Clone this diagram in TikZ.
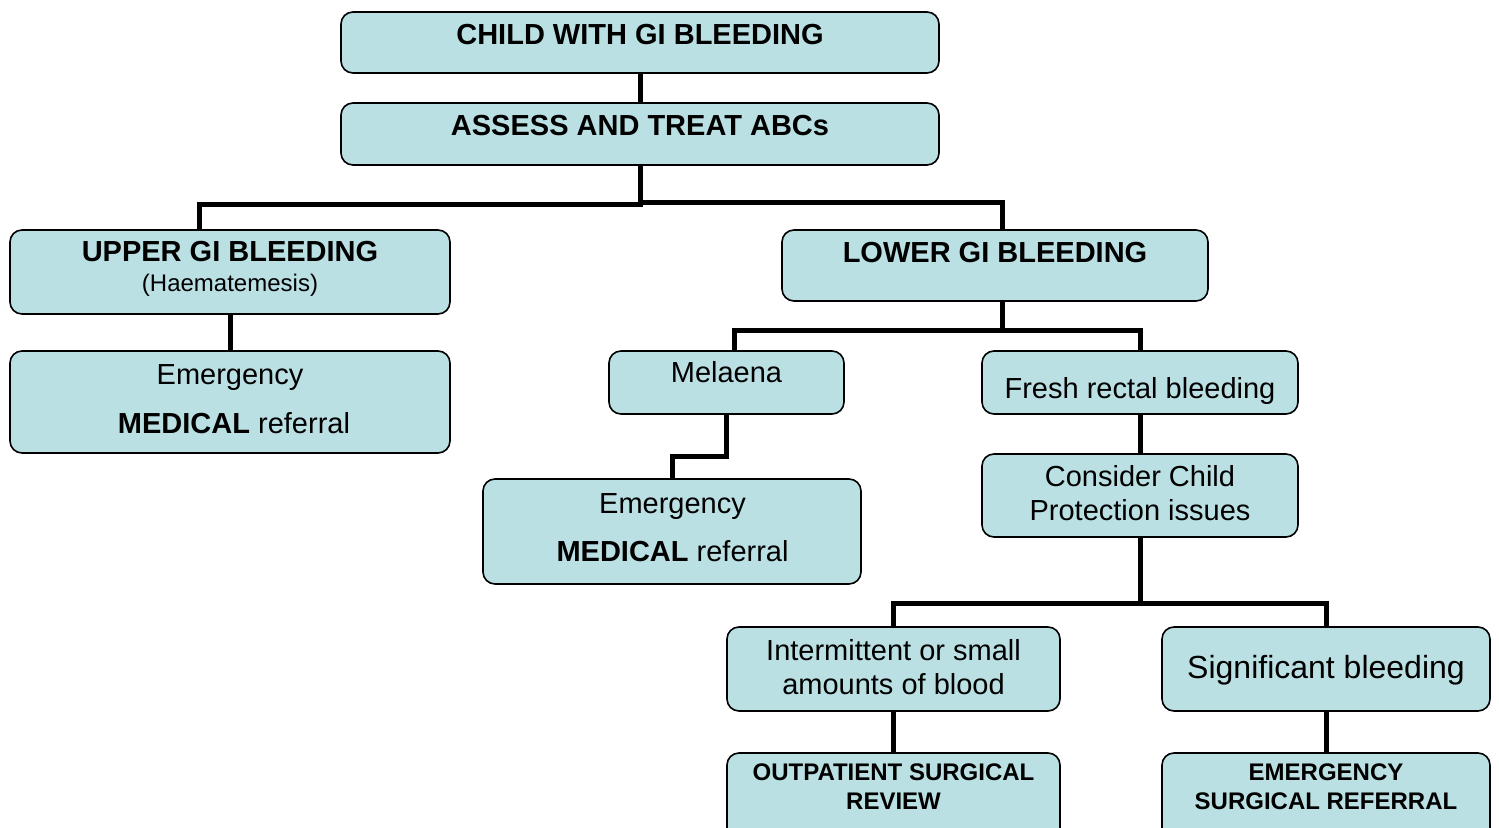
\documentclass[tikz,border=0pt]{standalone}
\usepackage{fontspec}
\setmainfont{Liberation Sans}
\definecolor{boxfill}{RGB}{186,224,227}
\tikzset{
  box/.style={draw=black, line width=0.8pt, fill=boxfill, rounded corners=6pt, inner sep=0pt},
  conn/.style={draw=black, line width=2.5pt},
  hd/.style={anchor=base, inner sep=0pt, font=\fontsize{14.5}{17}\selectfont\bfseries},
  tx/.style={anchor=base, inner sep=0pt, font=\fontsize{14.5}{17}\selectfont},
  sm/.style={anchor=base, inner sep=0pt, font=\fontsize{12}{14}\selectfont},
  smb/.style={anchor=base, inner sep=0pt, font=\fontsize{12}{14}\selectfont\bfseries},
  big/.style={anchor=base, inner sep=0pt, font=\fontsize{16}{19}\selectfont},
}
\begin{document}
\begin{tikzpicture}[x=0.5pt,y=-0.5pt]
\clip (0,0) rectangle (1499,828);
\fill[white] (0,0) rectangle (1499,828);

% boxes
\node[box, minimum width=299pt, minimum height=30.5pt] (child) at (640,42.5) {};
\node[box, minimum width=299pt, minimum height=31pt] (assess) at (640,134) {};
\node[box, minimum width=220pt, minimum height=42pt] (upper) at (230,272) {};
\node[box, minimum width=220pt, minimum height=51pt] (emerL) at (230,402) {};
\node[box, minimum width=213pt, minimum height=35.5pt] (lower) at (995,265.5) {};
\node[box, minimum width=117.5pt, minimum height=31.5pt] (melaena) at (726.5,382.5) {};
\node[box, minimum width=158pt, minimum height=31.5pt] (fresh) at (1140,382.5) {};
\node[box, minimum width=158pt, minimum height=41.5pt] (consider) at (1140,495.5) {};
\node[box, minimum width=189pt, minimum height=52.5pt] (emerM) at (672,531.5) {};
\node[box, minimum width=166.5pt, minimum height=42pt] (interm) at (893.5,669) {};
\node[box, minimum width=164pt, minimum height=42pt] (signif) at (1326,669) {};
\node[box, minimum width=166.5pt, minimum height=48.5pt] (outpat) at (893.5,801.5) {};
\node[box, minimum width=164pt, minimum height=48.5pt] (emsurg) at (1326,801.5) {};

% connectors
\draw[conn] (child.south) -- (assess.north);
\draw[conn] (assess.south) |- ([xshift=-15.5pt, yshift=12.5pt]upper.north) -- ([xshift=-15.5pt]upper.north);
\draw[conn] ([yshift=-18.5pt]assess.south) -| ([xshift=3.5pt]lower.north);
\draw[conn] (upper.south) -- (emerL.north);
\draw[conn] ([xshift=3.5pt]lower.south) -- ++(0,29) coordinate (jl);
\draw[conn] ([xshift=3.75pt]melaena.north) |- (jl) -| (fresh.north);
\draw[conn] (melaena.south) |- ([yshift=11pt]emerM.north) -- (emerM.north);
\draw[conn] (fresh.south) -- (consider.north);
\draw[conn] (consider.south) -- ++(0,66) coordinate (jc);
\draw[conn] (interm.north) |- (jc) -| (signif.north);
\draw[conn] (interm.south) -- (outpat.north);
\draw[conn] (signif.south) -- (emsurg.north);

% texts
\node[hd] (t1) at (640,45) {CHILD WITH GI BLEEDING};
\node[hd] (t2) at (640,136) {ASSESS AND TREAT ABCs};
\node[hd] (t3) at (230,262) {UPPER GI BLEEDING};
\node[sm] (t3b) at (230,292) {(Haematemesis)};
\node[tx] (t4) at (230,385) {Emergency};
\node[tx] (t4b) at (234,434) {\textbf{MEDICAL} referral};
\node[hd] (t5) at (995,263) {LOWER GI BLEEDING};
\node[tx] (t6) at (726.5,383) {Melaena};
\node[tx] (t7) at (1140,399) {Fresh rectal bleeding};
\node[tx] (t8) at (1140,487) {Consider Child};
\node[tx] (t8b) at (1140,520) {Protection issues};
\node[tx] (t9) at (672.5,513) {Emergency};
\node[tx] (t9b) at (672.5,561) {\textbf{MEDICAL} referral};
\node[tx] (t10) at (893.5,660) {Intermittent or small};
\node[tx] (t10b) at (893.5,694) {amounts of blood};
\node[big] (t11) at (1326,678) {Significant bleeding};
\node[smb] (t12) at (893.5,780) {OUTPATIENT SURGICAL};
\node[smb] (t12b) at (893.5,809) {REVIEW};
\node[smb] (t13) at (1326,780) {EMERGENCY};
\node[smb] (t13b) at (1326,809) {SURGICAL REFERRAL};
\end{tikzpicture}
\end{document}
